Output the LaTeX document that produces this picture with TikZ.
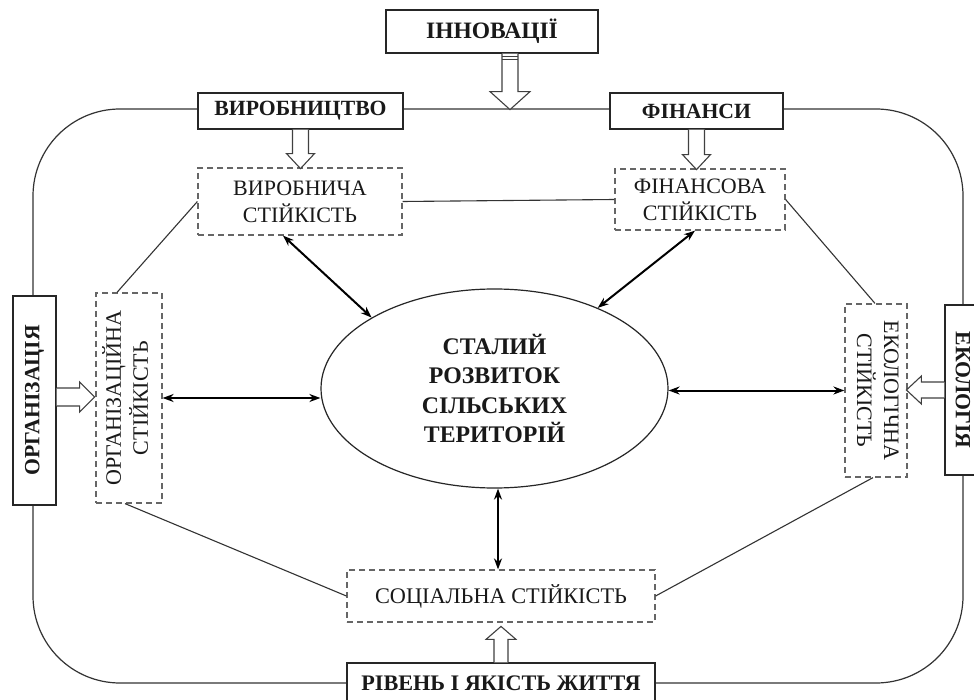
\documentclass[tikz,border=0pt]{standalone}
\usepackage{fontspec}
\setmainfont{Liberation Serif}
\usepackage{graphicx}
\usetikzlibrary{arrows.meta,calc,shapes.geometric}

\tikzset{
 outerbox/.style={draw=black!85, line width=1.2pt, fill=white, inner sep=0pt, text=black!90, font=\fontsize{21.7}{26}\selectfont\bfseries},
 stabbox/.style={draw=black!60, dash pattern=on 6pt off 4pt, line width=1.2pt, fill=white, inner sep=0pt, align=center, text=black!90, font=\fontsize{22}{27}\selectfont},
 thinline/.style={draw=black!80, line width=1.1pt},
 frameline/.style={draw=black!80, line width=1.2pt},
 dbl/.style={draw=black, line width=2pt, {Stealth[length=11pt,width=8pt]}-{Stealth[length=11pt,width=8pt]}},
 blockarr/.style={draw=black!75, line width=1.1pt, fill=white, line join=miter},
}
\newcommand{\hollowarr}[6]{\draw[blockarr, shift={(#1)}, rotate=#2] (0pt,-#5pt) -- (#3pt-#4pt,-#5pt) -- (#3pt-#4pt,-#6pt) -- (#3pt,0pt) -- (#3pt-#4pt,#6pt) -- (#3pt-#4pt,#5pt) -- (0pt,#5pt);}

\begin{document}
\begin{tikzpicture}[x=1pt,y=-1pt]
\clip (0,0) rectangle (974,700);
\fill[white] (0,0) rectangle (974,700);

% frame
\draw[frameline, rounded corners=87pt] (33,109) rectangle (963,683);

% outer boxes
\node[outerbox, minimum width=212pt, minimum height=43pt, font=\fontsize{23.5}{28}\selectfont\bfseries] (inn) at (492,31.5) {ІННОВАЦІЇ};
\node[outerbox, minimum width=205pt, minimum height=36pt] (vyr) at (300.5,111) {ВИРОБНИЦТВО};
\node[outerbox, minimum width=173pt, minimum height=36pt] (fin) at (696.5,111) {ФІНАНСИ};
\node[outerbox, minimum width=43pt, minimum height=209pt] (org) at (34.5,400.5) {\rotatebox{90}{ОРГАНІЗАЦІЯ}};
\node[outerbox, minimum width=36pt, minimum height=170pt] (eco) at (963,390) {\rotatebox{-90}{ЕКОЛОГІЯ}};
\node[outerbox, minimum width=308pt, minimum height=40pt, font=\fontsize{22.2}{26}\selectfont\bfseries] (riv) at (501,683) {РІВЕНЬ І ЯКІСТЬ ЖИТТЯ};

% stability boxes
\node[stabbox, minimum width=204pt, minimum height=67pt] (vs) at (300,201.5) {ВИРОБНИЧА\\СТІЙКІСТЬ};
\node[stabbox, minimum width=170pt, minimum height=61pt] (fs) at (700,199.5) {ФІНАНСОВА\\СТІЙКІСТЬ};
\node[stabbox, minimum width=66pt, minimum height=210pt] (os) at (129,398) {\rotatebox{90}{\begin{tabular}{@{}c@{}}ОРГАНІЗАЦІЙНА\\СТІЙКІСТЬ\end{tabular}}};
\node[stabbox, minimum width=62pt, minimum height=173pt] (es) at (876,390.5) {\rotatebox{-90}{\begin{tabular}{@{}c@{}}ЕКОЛОГІЧНА\\СТІЙКІСТЬ\end{tabular}}};
\node[stabbox, minimum width=308pt, minimum height=52pt, font=\fontsize{22.3}{27}\selectfont] (ss) at (501,596) {СОЦІАЛЬНА СТІЙКІСТЬ};

% central ellipse
\node[ellipse, draw=black!85, line width=1.2pt, fill=white, inner sep=0pt, minimum width=347pt, minimum height=199pt, align=center, text=black!90, font=\fontsize{23.8}{29.3}\selectfont\bfseries] (ell) at (494.5,388.5) {СТАЛИЙ\\РОЗВИТОК\\СІЛЬСЬКИХ\\ТЕРИТОРІЙ};

% thin connectors between stability boxes
\draw[thinline] (vs.east) -- (fs.west);
\draw[thinline] (vs.west) -- ([xshift=-12pt]os.north);
\draw[thinline] ([xshift=-4pt]os.south) -- (ss.west);
\draw[thinline] (ss.east) -- ([xshift=-3pt]es.south);
\draw[thinline] (fs.east) -- ([xshift=-1pt]es.north);

% double arrows
\coordinate (bA) at ([xshift=3.5pt]ell.south);
\draw[dbl] ([xshift=-17pt]vs.south) -- (ell.150.5);
\draw[dbl] ([xshift=-5pt]fs.south) -- (ell.38.5);
\draw[dbl] (os.east) -- (ell.west |- os.east);
\draw[dbl] (es.west) -- (es.west -| ell.east);
\draw[dbl] (ss.north -| bA) -- (bA);

% hollow block arrows
\coordinate (innA) at ([xshift=18pt]inn.south);
\coordinate (orgA) at ([yshift=3.5pt]org.east);
\hollowarr{innA}{-90}{56}{18}{8}{20}
\draw[black!75, line width=1pt] ($(innA)+(-8,3)$) -- ++(16,0);
\draw[black!75, line width=1pt] ($(innA)+(-8,6)$) -- ++(16,0);
\hollowarr{vyr.south}{-90}{39}{15}{8}{14}
\hollowarr{fin.south}{-90}{40}{15}{8}{14}
\hollowarr{orgA}{0}{38}{15}{9}{15}
\hollowarr{eco.west}{180}{38}{15}{8}{14}
\hollowarr{riv.north}{90}{36}{13}{7}{15}
\end{tikzpicture}
\end{document}
